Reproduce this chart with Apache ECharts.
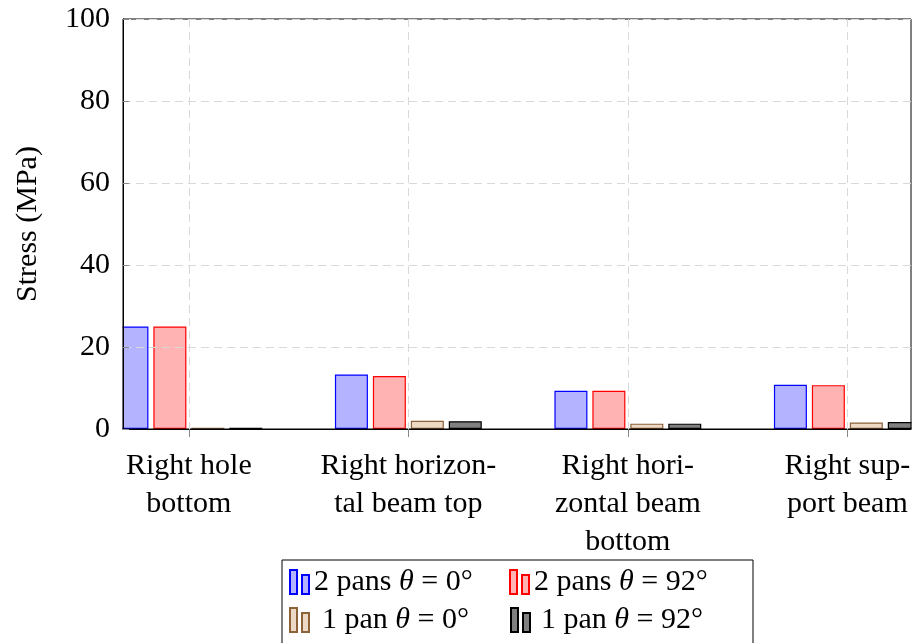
<!DOCTYPE html>
<html>
<head>
<meta charset="utf-8">
<script src="https://cdn.jsdelivr.net/npm/echarts@6/dist/echarts.min.js"></script>
<style>
html,body{margin:0;padding:0;background:#fff;}
#c{width:920px;height:643px;}
</style>
</head>
<body>
<div id="c"></div>
<script>
const categories = ['Right hole\nbottom', 'Right horizon-\ntal beam top', 'Right hori-\nzontal beam\nbottom', 'Right sup-\nport beam'];
const categoryPos = [0, 1, 2, 3];
const seriesNames = ['2 pans θ = 0°', '2 pans θ = 92°', '1 pan θ = 0°', '1 pan θ = 92°'];
const pans2_0 = [25.0, 13.3, 9.3, 10.8];
const pans2_92 = [25.0, 12.9, 9.3, 10.7];
const pan1_0 = [0.3, 2.0, 1.3, 1.6];
const pan1_92 = [0.3, 1.9, 1.3, 1.7];
const yTicks = [0, 20, 40, 60, 80, 100];

const FONT = '"Liberation Serif", "DejaVu Serif", serif';
const fills = ['rgb(179,179,255)', 'rgb(255,179,179)', 'rgb(236,217,198)', 'rgb(128,128,128)'];
const strokes = ['#0000ff', '#ff0000', '#8c6239', '#000000'];
const values = [pans2_0, pans2_92, pan1_0, pan1_92];

const chart = echarts.init(document.getElementById('c'));
const series = values.map((arr, si) => ({
  name: seriesNames[si],
  type: 'bar',
  barWidth: 33,
  barGap: '15%',
  z: 2,
  data: arr.map((v, i) => [categoryPos[i], v]),
  itemStyle: { color: fills[si], borderColor: strokes[si], borderWidth: 1.2 },
  emphasis: { disabled: true }
}));

const legendPos = [[289, 567], [509, 567], [289, 605], [510, 605]];
const legends = seriesNames.map((n, i) => ({
  data: [n],
  left: legendPos[i][0],
  top: legendPos[i][1],
  padding: 0,
  itemWidth: 19,
  itemHeight: 24,
  itemGap: 0,
  icon: 'path://M0,0h7v24h-7z M12,5h7v19h-7z',
  selectedMode: false,
  z: 8,
  formatter: name => name.replace('θ', '{i|θ}'),
  textStyle: {
    fontFamily: FONT, fontSize: 30, color: '#000', padding: [0, 0, 0, i === 2 ? 8 : (i === 3 ? 6 : 0)],
    rich: { i: { fontFamily: FONT, fontSize: 30, fontStyle: 'italic', color: '#000' } }
  }
}));

const splitStyle = { color: '#d9d9d9', type: [8, 5], width: 1 };

chart.setOption({
  animation: false,
  backgroundColor: '#fff',
  grid: { left: 123, right: 9, top: 19, bottom: 214, show: true, borderColor: '#000', borderWidth: 1, backgroundColor: 'transparent', z: 7 },
  graphic: [
    { type: 'rect', z: 5, silent: true, shape: { x: 0, y: 0, width: 122.5, height: 440 }, style: { fill: '#fff' } },
    { type: 'rect', z: 5, silent: true, shape: { x: 911.5, y: 0, width: 20, height: 440 }, style: { fill: '#fff' } },
    { type: 'rect', z: 6, silent: true, shape: { x: 282, y: 560, width: 471, height: 100 }, style: { fill: '#fff', stroke: '#000', lineWidth: 1 } }
  ],
  legend: legends,
  xAxis: {
    type: 'value', min: -0.3, max: 3.29, z: 7,
    axisLine: { show: true, onZero: false, lineStyle: { color: '#000' } },
    axisTick: { show: true, inside: false, length: 8, customValues: categoryPos, lineStyle: { color: '#888' } },
    axisLabel: {
      customValues: categoryPos,
      formatter: v => categories[Math.round(v)],
      fontFamily: FONT, fontSize: 30, color: '#000', lineHeight: 38, margin: 18, align: 'center', verticalAlign: 'top'
    },
    splitLine: { show: true, lineStyle: splitStyle }
  },
  yAxis: {
    type: 'value', min: 0, max: 100, interval: 20, z: 7,
    name: 'Stress (MPa)', nameLocation: 'middle', nameGap: 80, nameRotate: 90,
    nameTextStyle: { fontFamily: FONT, fontSize: 30, color: '#000' },
    axisLine: { show: true, onZero: false, lineStyle: { color: '#000' } },
    axisTick: { show: true, inside: true, length: 6, lineStyle: { color: '#888' } },
    axisLabel: { formatter: v => yTicks.includes(v) ? String(v) : '', fontFamily: FONT, fontSize: 30, color: '#000', margin: 13 },
    splitLine: { show: true, lineStyle: splitStyle }
  },
  series: series
});
</script>
</body>
</html>
